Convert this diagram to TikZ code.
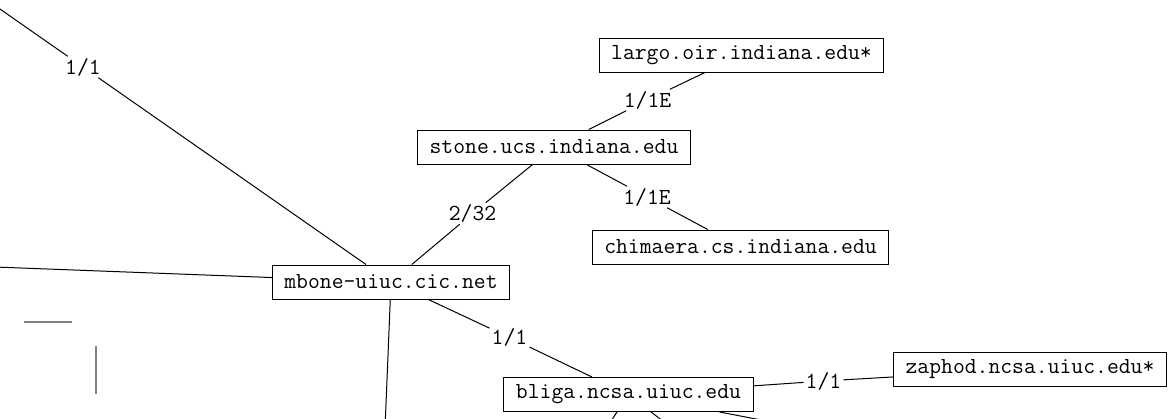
\documentclass[tikz,border=0pt]{standalone}
\begin{document}
\begin{tikzpicture}[x=1pt,y=-1pt,
  txt/.style={font=\ttfamily\fontsize{23}{27}\selectfont},
  host/.style={txt, draw, line width=1pt, inner xsep=12pt, inner ysep=0pt, minimum height=34pt},
  lab/.style={txt, inner xsep=2pt, inner ysep=0pt, minimum height=21pt},
  link/.style={line width=1pt},
  graybar/.style={draw=gray, line width=2pt}]
\clip (0,0) rectangle (1172,418);
% hosts
\node[host] (largo)    at (741.5,55)  {largo.oir.indiana.edu*};
\node[host] (stone)    at (554,147)   {stone.ucs.indiana.edu};
\node[host] (chimaera) at (740.5,247) {chimaera.cs.indiana.edu};
\node[host] (mbone)    at (391,282)   {mbone-uiuc.cic.net};
\node[host] (bliga)    at (628.5,394.5) {bliga.ncsa.uiuc.edu};
\node[host] (zaphod)   at (1030,369)  {zaphod.ncsa.uiuc.edu*};
% off-canvas ends
\coordinate (tl) at (-225,-148);
\coordinate (w)  at (-400,252);
\coordinate (s)  at (378,600);
\coordinate (b1) at (559,500);
\coordinate (b2) at (765,500);
\coordinate (b3) at (1136,492);
% labels
\node[lab] (l1) at (647.5,100) {1/1E};
\node[lab] (l2) at (647,197)   {1/1E};
\node[lab] (l3) at (472.5,213.5) {2/32};
\node[lab] (l4) at (509.5,337.5) {1/1};
\node[lab] (l5) at (83,67)     {1/1};
\node[lab] (l6) at (823.5,381) {1/1};
% links
\draw[link] (largo) -- (l1) -- (stone);
\draw[link] (stone) -- (l2) -- (chimaera);
\draw[link] (stone) -- (l3) -- (mbone);
\draw[link] (mbone) -- (l4) -- (bliga);
\draw[link] (mbone) -- (l5) -- (tl);
\draw[link] (bliga) -- (l6) -- (zaphod);
\draw[link] (mbone) -- (w);
\draw[link] (mbone) -- (s);
\draw[link] (bliga) -- (b1);
\draw[link] (bliga) -- (b2);
\draw[link] (bliga) -- (b3);
% gray strokes
\coordinate (g1) at (24,322);
\coordinate (g2) at (72,322);
\coordinate (g3) at (96,346);
\coordinate (g4) at (96,394);
\draw[graybar] (g1) -- (g2);
\draw[graybar] (g3) -- (g4);
\end{tikzpicture}
\end{document}
